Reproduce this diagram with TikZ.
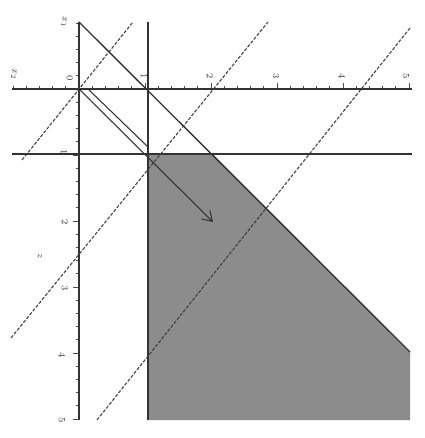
\documentclass[tikz,border=0pt]{standalone}
\usetikzlibrary{arrows.meta}
\begin{document}
\begin{tikzpicture}[x=0.75pt,y=-0.75pt,
  axis/.style={line width=1.1pt, black!80},
  bound/.style={line width=1pt, black!80},
  dashline/.style={line width=0.8pt, black!75, dash pattern=on 2.5pt off 1.2pt},
  tickmark/.style={line width=0.5pt, black!70},
  lbl/.style={font=\scriptsize, rotate=-90, inner sep=0.5pt, text=black!80},
  region/.style={fill=black!45},
  vec/.style={line width=0.8pt, black!80, -{Straight Barb[length=7pt,width=9pt]}},
  vecside/.style={line width=0.8pt, black!80}]
\useasboundingbox (0,0) rectangle (424,438);
% key points
\coordinate (O) at (79,89);
\coordinate (ytop) at (79,22);
\coordinate (ybot) at (79,420);
\coordinate (xl) at (12,89);
\coordinate (xr) at (412,89);
\coordinate (vt) at (148,22);
\coordinate (vb) at (148,420);
\coordinate (hl) at (12,154);
\coordinate (hr) at (412,154);
\coordinate (A) at (148,154);
\coordinate (B) at (213,154);
\coordinate (C) at (410,352);
\coordinate (D) at (410,420);
\coordinate (E) at (148,420);
\coordinate (vecend) at (213,222);
\coordinate (s1) at (88,89);
\coordinate (s2) at (148,147);
\coordinate (da1) at (22,160);
\coordinate (da2) at (133,22);
\coordinate (db1) at (11,338);
\coordinate (db2) at (268,22);
\coordinate (dc1) at (97,420);
\coordinate (dc2) at (410,28);
% feasible region
\fill[region] (A) -- (B) -- (C) -- (D) -- (E) -- cycle;
% ticks
\foreach \i in {-5,...,25} {\draw[tickmark] ({79+13.2*\i},89) -- ++(0,-3);}
\foreach \i in {-5,...,25} {\draw[tickmark] (79,{89+13.2*\i}) -- ++(-3,0);}
\foreach \i in {1,...,5} {\draw[tickmark] ({79+66*\i},89) -- ++(0,-6);
  \draw[tickmark] (79,{89+66*\i}) -- ++(-6,0);}
% axes and lines
\draw[axis] (xl) -- (xr);
\draw[axis] (ytop) -- (ybot);
\draw[bound] (vt) -- (vb);
\draw[bound] (hl) -- (hr);
\draw[bound] (ytop) -- (C);
\draw[dashline] (da1) -- (da2);
\draw[dashline] (db1) -- (db2);
\draw[dashline] (dc1) -- (dc2);
\draw[vec] (O) -- (vecend);
\draw[vecside] (s1) -- (s2);
% labels
\node[lbl] (lx1) at (64,22) {$x_1$};
\node[lbl] (lx2) at (14,74) {$x_2$};
\node[lbl] (lo) at (70,78) {$0$};
\node[lbl] (h1) at (144,76) {1};
\node[lbl] (h2) at (210,76) {2};
\node[lbl] (h3) at (276,76) {3};
\node[lbl] (h4) at (342,76) {4};
\node[lbl] (h5) at (406,76) {5};
\node[lbl] (v1) at (64,152) {1};
\node[lbl] (v2) at (65,222) {2};
\node[lbl] (v3) at (65,288) {3};
\node[lbl] (v4) at (62,355) {4};
\node[lbl] (v5) at (62,420) {5};
\node[lbl] (lz) at (40,256) {$z$};
\end{tikzpicture}
\end{document}
